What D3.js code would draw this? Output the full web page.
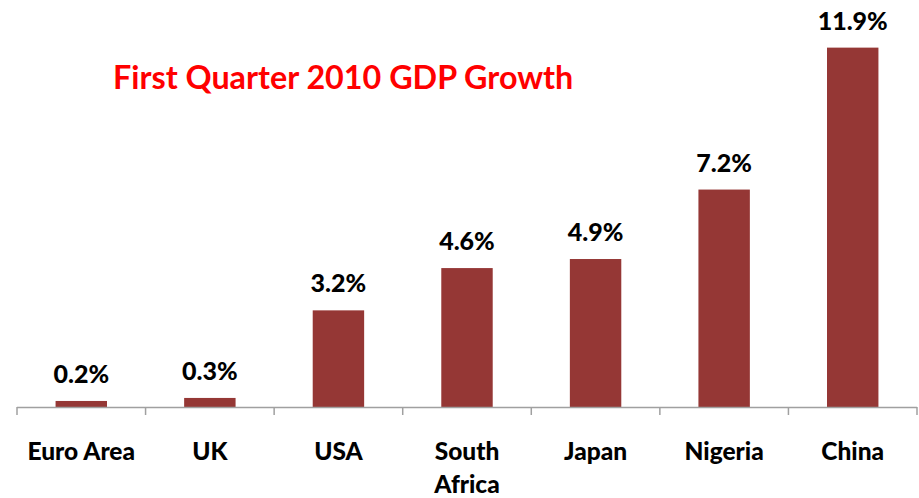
<!DOCTYPE html>
<html>
<head>
<meta charset="utf-8">
<script src="https://cdn.jsdelivr.net/npm/d3@7"></script>
<style>
    body { margin: 0; background: #fff; }
    svg { display: block; }
</style>
</head>
<body>
<div id="chart"></div>
<script>
// chart data
var countries = ["Euro Area", "UK", "USA", "South Africa", "Japan", "Nigeria", "China"];
var growth = [0.2, 0.3, 3.2, 4.6, 4.9, 7.2, 11.9];
var valueLabels = ["0.2%", "0.3%", "3.2%", "4.6%", "4.9%", "7.2%", "11.9%"];
var nameLines = [["Euro Area"], ["UK"], ["USA"], ["South", "Africa"], ["Japan"], ["Nigeria"], ["China"]];

var width = 919, height = 498;
var baseY = 407;

var svg = d3.select("#chart")
    .append("svg")
    .attr("width", width)
    .attr("height", height);

var x = d3.scaleBand()
    .domain(countries)
    .range([17, 917])
    .padding(0);

var y = d3.scaleLinear()
    .domain([0, 12])
    .range([baseY, baseY - 12 * 30.2]);

var barW = x.bandwidth() * 0.4;

// title
svg.append("text")
    .attr("x", 113)
    .attr("y", 89)
    .style("font-family", "Lato, 'Open Sans', sans-serif")
    .style("font-weight", "bold")
    .style("font-size", "32.3px")
    .style("fill", "#ff0000")
    .text("First Quarter 2010 GDP Growth");

// bars
svg.selectAll("rect.bar")
    .data(growth)
    .enter()
    .append("rect")
    .attr("class", "bar")
    .attr("x", function(d, i) { return x(countries[i]) + (x.bandwidth() - barW) / 2; })
    .attr("width", barW)
    .attr("y", function(d) { return y(d); })
    .attr("height", function(d) { return baseY - y(d); })
    .style("fill", "#953735");

// value labels
svg.selectAll("text.val")
    .data(growth)
    .enter()
    .append("text")
    .attr("class", "val")
    .attr("x", function(d, i) { return x(countries[i]) + x.bandwidth() / 2; })
    .attr("y", function(d) { return y(d) - 18; })
    .attr("text-anchor", "middle")
    .style("font-family", "Lato, 'Open Sans', sans-serif")
    .style("font-weight", "900")
    .style("font-size", "25px")
    .style("fill", "#000")
    .text(function(d, i) { return valueLabels[i]; });

// axis line + boundary ticks
var axis = svg.append("g").attr("class", "axis");
axis.append("line")
    .attr("x1", x.range()[0])
    .attr("x2", x.range()[1])
    .attr("y1", baseY + 0.5)
    .attr("y2", baseY + 0.5)
    .style("stroke", "#a0a0a0")
    .style("stroke-width", 1.5);

var bounds = countries.map(function(c) { return x(c); }).concat([x.range()[1]]);
axis.selectAll("line.tick")
    .data(bounds)
    .enter()
    .append("line")
    .attr("class", "tick")
    .attr("x1", function(d) { return d; })
    .attr("x2", function(d) { return d; })
    .attr("y1", baseY)
    .attr("y2", baseY + 8)
    .style("stroke", "#a0a0a0")
    .style("stroke-width", 1.5);

// category labels
var cats = svg.selectAll("text.cat")
    .data(countries)
    .enter()
    .append("text")
    .attr("class", "cat")
    .attr("x", function(d) { return x(d) + x.bandwidth() / 2; })
    .attr("y", 460)
    .attr("text-anchor", "middle")
    .style("font-family", "Lato, 'Open Sans', sans-serif")
    .style("font-weight", "900")
    .style("font-size", "24.5px")
    .style("fill", "#000");

cats.each(function(d, i) {
    var el = d3.select(this);
    nameLines[i].forEach(function(line, k) {
        el.append("tspan")
            .attr("x", x(d) + x.bandwidth() / 2)
            .attr("dy", k == 0 ? 0 : 33)
            .text(line);
    });
});
</script>
</body>
</html>
